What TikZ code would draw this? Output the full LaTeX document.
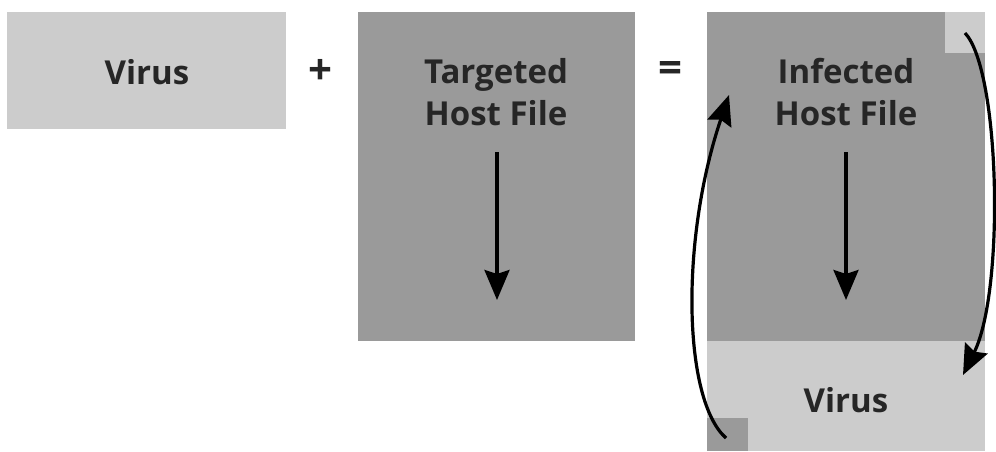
\documentclass[tikz,border=0pt]{standalone}
\usepackage{fontspec}
\setmainfont{Open Sans}
\usetikzlibrary{arrows.meta}
\definecolor{lightblock}{HTML}{CCCCCC}
\definecolor{darkblock}{HTML}{9A9A9A}
\tikzset{
  block/.style={rectangle, inner sep=0pt, outer sep=0pt, draw=none, anchor=north west},
  lbl/.style={font=\bfseries\fontsize{33}{42}\selectfont, align=center, text=black!85},
  op/.style={font=\bfseries\fontsize{42}{44}\selectfont, text=black!85},
  flow/.style={line width=3.2pt, -{Stealth[length=30pt,width=25pt,inset=4pt]}},
}
\begin{document}
\begin{tikzpicture}[x=1pt,y=-1pt]
\useasboundingbox (0,0) rectangle (996,451);
% the virus on its own
\node[block, fill=lightblock, minimum width=279pt, minimum height=117pt] (virus) at (7,12) {};
\node[lbl] (virustxt) at (147,72) {Virus};
\node[op] (plus) at (320,72) {+};
% the host file before infection
\node[block, fill=darkblock, minimum width=277pt, minimum height=329pt] (host) at (358,12) {};
\node[lbl, anchor=north] (hosttxt) at (496,55) {Targeted\\Host File};
\coordinate (hs) at (497,152);
\coordinate (he) at (497,300);
\draw[flow] (hs) -- (he);
\node[op] (eq) at (670,72) {=};
% the infected host file
\node[block, fill=darkblock, minimum width=278pt, minimum height=330pt] (inf) at (707,12) {};
\node[block, fill=lightblock, minimum width=278pt, minimum height=110pt] (infvirus) at (707,341) {};
\node[block, fill=lightblock, minimum width=40pt, minimum height=41pt] (topcorner) at (945,12) {};
\node[block, fill=darkblock, minimum width=41pt, minimum height=33pt] (botcorner) at (707,418) {};
\node[lbl, anchor=north] (inftxt) at (846,55) {Infected\\Host File};
\node[lbl] (infvirustxt) at (846,400) {Virus};
\coordinate (is) at (846,152);
\coordinate (ie) at (846,300);
\draw[flow] (is) -- (ie);
% jumps between the host code and the appended virus
\coordinate (ls) at (726,438);
\coordinate (le) at (729,95);
\draw[flow] (ls) .. controls (683,400) and (680,240) .. (le);
\coordinate (rs) at (965,33);
\coordinate (re) at (963,375);
\draw[flow] (rs) .. controls (1000,70) and (1005,290) .. (re);
\end{tikzpicture}
\end{document}
